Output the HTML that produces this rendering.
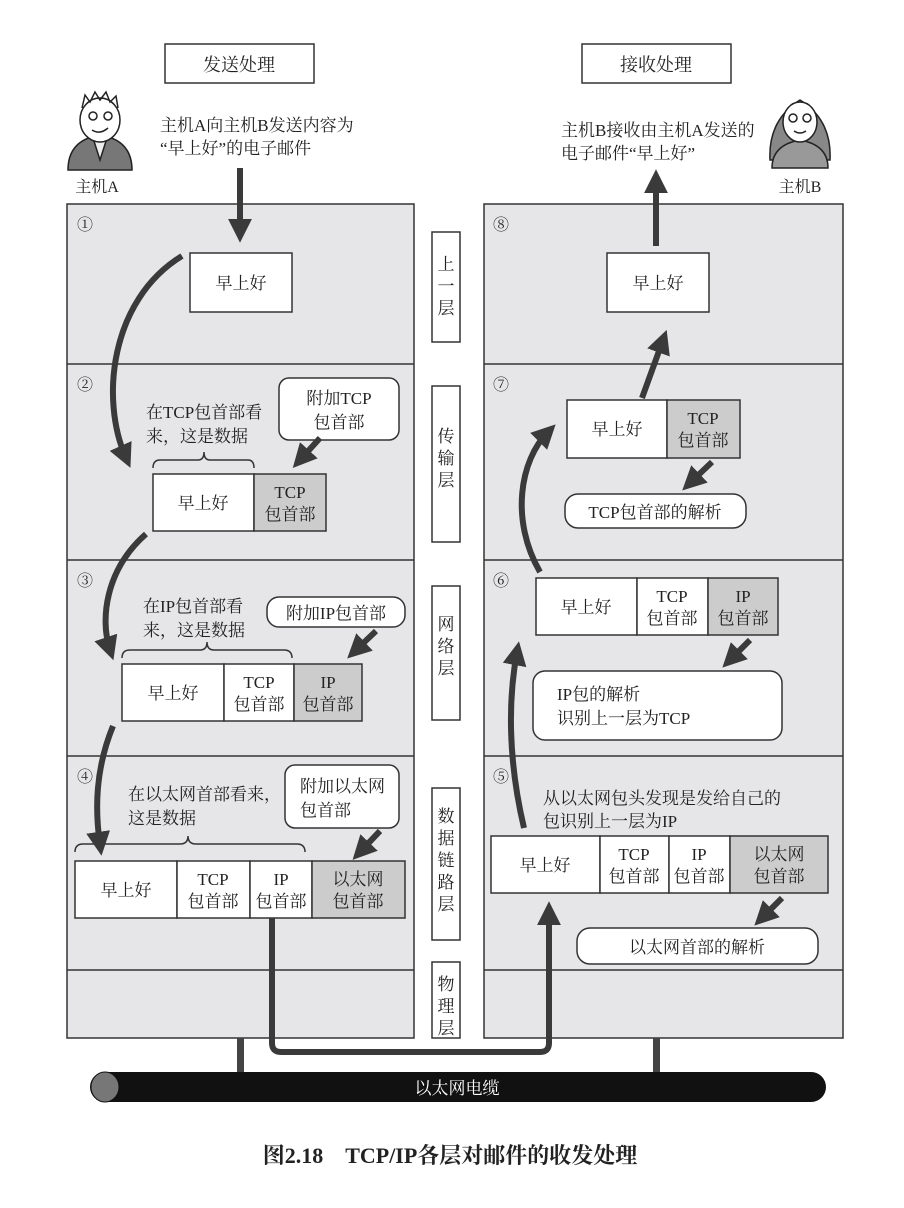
<!DOCTYPE html>
<html><head><meta charset="utf-8"><style>
html,body{margin:0;padding:0;background:#fff;}
svg{display:block}
text{font-family:"Liberation Serif","Noto Serif CJK SC","Noto Sans CJK SC",serif;fill:#222;}
</style></head><body>
<svg width="904" height="1208" viewBox="0 0 904 1208" xmlns="http://www.w3.org/2000/svg">
<defs>
<marker id="ah" markerWidth="4" markerHeight="4" refX="2.2" refY="2" orient="auto" markerUnits="strokeWidth">
<path d="M0,0 L4,2 L0,4 Z" fill="#3a3a3a"/></marker>
</defs>
<rect x="165" y="44" width="149" height="39" fill="#fff" stroke="#333" stroke-width="1.5"/>
<text x="239" y="71" font-size="18" text-anchor="middle">发送处理</text>
<rect x="582" y="44" width="149" height="39" fill="#fff" stroke="#333" stroke-width="1.5"/>
<text x="656" y="71" font-size="18" text-anchor="middle">接收处理</text>

<g stroke="#222" stroke-width="1.5">
<path d="M68,170 Q68,140 100,135 Q132,140 132,170 Z" fill="#777"/>
<path d="M93,138 L100,160 L107,138" fill="#eee"/>
<ellipse cx="100" cy="120" rx="20" ry="22" fill="#fff"/>
<circle cx="93" cy="116" r="4" fill="#fff"/><circle cx="108" cy="116" r="4" fill="#fff"/>
<path d="M92,130 Q100,135 108,128" fill="none"/>
<path d="M82,108 L85,95 L90,102 L95,92 L100,100 L106,92 L110,102 L116,96 L118,108" fill="none"/>
</g>
<text x="97" y="192" font-size="16" text-anchor="middle">主机A</text>
<g stroke="#222" stroke-width="1.5">
<path d="M770,160 Q768,120 800,100 Q832,120 830,160 Z" fill="#888"/>
<path d="M772,168 Q772,145 800,140 Q828,145 828,168 Z" fill="#999"/>
<ellipse cx="800" cy="122" rx="17" ry="20" fill="#fff"/>
<circle cx="793" cy="118" r="4" fill="#fff"/><circle cx="807" cy="118" r="4" fill="#fff"/>
<path d="M794,131 Q800,135 806,131" fill="none"/>
</g>
<text x="800" y="192" font-size="16" text-anchor="middle">主机B</text>

<text x="160" y="131" font-size="17">主机A向主机B发送内容为</text>
<text x="160" y="154" font-size="17">“早上好”的电子邮件</text>
<text x="561" y="136" font-size="17">主机B接收由主机A发送的</text>
<text x="561" y="159" font-size="17">电子邮件“早上好”</text>

<g fill="#e6e6e8" stroke="#333" stroke-width="1.5">
<rect x="67" y="204" width="347" height="834"/>
<rect x="484" y="204" width="359" height="834"/>
</g>
<g stroke="#333" stroke-width="1.5">
<line x1="67" y1="364" x2="414" y2="364"/><line x1="67" y1="560" x2="414" y2="560"/>
<line x1="67" y1="756" x2="414" y2="756"/><line x1="67" y1="970" x2="414" y2="970"/>
<line x1="484" y1="364" x2="843" y2="364"/><line x1="484" y1="560" x2="843" y2="560"/>
<line x1="484" y1="756" x2="843" y2="756"/><line x1="484" y1="970" x2="843" y2="970"/>
</g>
<g font-size="16">
<text x="77" y="230">①</text><text x="77" y="390">②</text><text x="77" y="586">③</text><text x="77" y="782">④</text>
<text x="493" y="230">⑧</text><text x="493" y="390">⑦</text><text x="493" y="586">⑥</text><text x="493" y="782">⑤</text>
</g>

<g fill="#fff" stroke="#333" stroke-width="1.5">
<rect x="432" y="232" width="28" height="110"/>
<rect x="432" y="386" width="28" height="156"/>
<rect x="432" y="586" width="28" height="134"/>
<rect x="432" y="788" width="28" height="152"/>
<rect x="432" y="962" width="28" height="76"/>
</g>
<g font-size="17" text-anchor="middle">
<text x="446" y="270">上</text><text x="446" y="292">一</text><text x="446" y="314">层</text>
<text x="446" y="442">传</text><text x="446" y="464">输</text><text x="446" y="486">层</text>
<text x="446" y="630">网</text><text x="446" y="652">络</text><text x="446" y="674">层</text>
<text x="446" y="822">数</text><text x="446" y="844">据</text><text x="446" y="866">链</text><text x="446" y="888">路</text><text x="446" y="910">层</text>
<text x="446" y="990">物</text><text x="446" y="1012">理</text><text x="446" y="1034">层</text>
</g>

<g stroke="#333" stroke-width="1.5">
<rect x="190" y="253" width="102" height="59" fill="#fff"/>
<rect x="153" y="474" width="101" height="57" fill="#fff"/><rect x="254" y="474" width="72" height="57" fill="#ccc"/>
<rect x="122" y="664" width="102" height="57" fill="#fff"/><rect x="224" y="664" width="70" height="57" fill="#fff"/><rect x="294" y="664" width="68" height="57" fill="#ccc"/>
<rect x="75" y="861" width="102" height="57" fill="#fff"/><rect x="177" y="861" width="73" height="57" fill="#fff"/><rect x="250" y="861" width="62" height="57" fill="#fff"/><rect x="312" y="861" width="93" height="57" fill="#ccc"/>
<rect x="607" y="253" width="102" height="59" fill="#fff"/>
<rect x="567" y="400" width="100" height="58" fill="#fff"/><rect x="667" y="400" width="73" height="58" fill="#ccc"/>
<rect x="536" y="578" width="101" height="57" fill="#fff"/><rect x="637" y="578" width="71" height="57" fill="#fff"/><rect x="708" y="578" width="70" height="57" fill="#ccc"/>
<rect x="491" y="836" width="109" height="57" fill="#fff"/><rect x="600" y="836" width="69" height="57" fill="#fff"/><rect x="669" y="836" width="61" height="57" fill="#fff"/><rect x="730" y="836" width="98" height="57" fill="#ccc"/>
</g>
<g font-size="17" text-anchor="middle">
<text x="241" y="289">早上好</text><text x="658" y="289">早上好</text>
<text x="203" y="509">早上好</text><text x="290" y="498">TCP</text><text x="290" y="520">包首部</text>
<text x="173" y="699">早上好</text><text x="259" y="688">TCP</text><text x="259" y="710">包首部</text><text x="328" y="688">IP</text><text x="328" y="710">包首部</text>
<text x="126" y="896">早上好</text><text x="213" y="885">TCP</text><text x="213" y="907">包首部</text><text x="281" y="885">IP</text><text x="281" y="907">包首部</text><text x="358" y="885">以太网</text><text x="358" y="907">包首部</text>
<text x="617" y="435">早上好</text><text x="703" y="424">TCP</text><text x="703" y="446">包首部</text>
<text x="586" y="613">早上好</text><text x="672" y="602">TCP</text><text x="672" y="624">包首部</text><text x="743" y="602">IP</text><text x="743" y="624">包首部</text>
<text x="545" y="871">早上好</text><text x="634" y="860">TCP</text><text x="634" y="882">包首部</text><text x="699" y="860">IP</text><text x="699" y="882">包首部</text><text x="779" y="860">以太网</text><text x="779" y="882">包首部</text>
</g>

<g fill="#fff" stroke="#333" stroke-width="1.5">
<rect x="279" y="378" width="120" height="62" rx="10"/>
<rect x="267" y="597" width="138" height="30" rx="12"/>
<rect x="285" y="765" width="114" height="63" rx="10"/>
<rect x="565" y="494" width="181" height="34" rx="13"/>
<rect x="533" y="671" width="249" height="69" rx="12"/>
<rect x="577" y="928" width="241" height="36" rx="13"/>
</g>
<g font-size="17">
<text x="339" y="404" text-anchor="middle">附加TCP</text><text x="339" y="428" text-anchor="middle">包首部</text>
<text x="336" y="619" text-anchor="middle">附加IP包首部</text>
<text x="300" y="792">附加以太网</text><text x="300" y="816">包首部</text>
<text x="655" y="518" text-anchor="middle">TCP包首部的解析</text>
<text x="557" y="700">IP包的解析</text><text x="557" y="724">识别上一层为TCP</text>
<text x="697" y="953" text-anchor="middle">以太网首部的解析</text>
<text x="146" y="418">在TCP包首部看</text><text x="146" y="442">来，这是数据</text>
<text x="143" y="612">在IP包首部看</text><text x="143" y="636">来，这是数据</text>
<text x="128" y="800">在以太网首部看来，</text><text x="128" y="824">这是数据</text>
<text x="543" y="804">从以太网包头发现是发给自己的</text><text x="543" y="827">包识别上一层为IP</text>
</g>
<g fill="none" stroke="#333" stroke-width="1.5">
<path d="M153,468 Q153,460 160,460 L198,460 Q204,460 204,452 Q204,460 210,460 L248,460 Q254,460 254,468"/>
<path d="M122,658 Q122,650 130,650 L200,650 Q207,650 207,642 Q207,650 214,650 L284,650 Q292,650 292,658"/>
<path d="M75,852 Q75,844 83,844 L180,844 Q188,844 188,836 Q188,844 196,844 L297,844 Q305,844 305,852"/>
</g>

<g fill="none" stroke="#3a3a3a" stroke-width="6" marker-end="url(#ah)">
<path d="M240,168 L240,232"/>
<path d="M656,246 L656,180"/>
<path d="M182,256 C110,300 100,400 126,458"/>
<path d="M146,534 C105,570 100,620 110,650"/>
<path d="M113,726 C95,770 95,810 100,845"/>
<path d="M524,828 C508,760 508,700 517,652"/>
<path d="M540,572 C510,520 520,460 548,432"/>
<path d="M642,398 L663,340"/>
<path d="M320,438 L300,460"/>
<path d="M376,631 L355,651"/>
<path d="M380,831 L360,852"/>
<path d="M712,462 L690,483"/>
<path d="M750,640 L730,660"/>
<path d="M782,898 L762,918"/>
<path d="M272,918 L272,1043 Q272,1052 281,1052 L540,1052 Q549,1052 549,1043 L549,912"/>
</g>
<rect x="237" y="1038" width="7" height="34" fill="#444"/>
<rect x="653" y="1038" width="7" height="34" fill="#444"/>
<rect x="90" y="1072" width="736" height="30" rx="15" fill="#111"/>
<ellipse cx="105" cy="1087" rx="14" ry="15" fill="#777" stroke="#111"/>
<text x="457" y="1094" font-size="17" text-anchor="middle" style="fill:#fff">以太网电缆</text>
<text x="450" y="1163" font-size="22" font-weight="bold" text-anchor="middle">图2.18　TCP/IP各层对邮件的收发处理</text>
</svg>
</body></html>
